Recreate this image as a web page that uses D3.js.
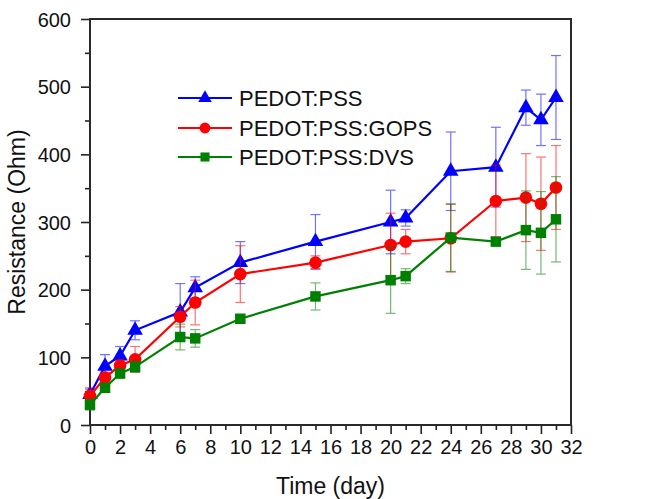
<!DOCTYPE html>
<html>
<head>
<meta charset="utf-8">
<script src="https://cdn.jsdelivr.net/npm/d3@7"></script>
<style>
  body { margin: 0; background: #fff; }
  text { font-family: "Liberation Sans", Arial, sans-serif; fill: #111; }
</style>
</head>
<body>
<svg id="chart" width="655" height="499"></svg>
<script>
const days = [0, 1, 2, 3, 6, 7, 10, 15, 20, 21, 24, 27, 29, 30, 31];

const pssValues = [45, 87, 102, 140, 167, 203, 240, 271, 300, 306, 375, 381, 469, 451, 484];
const pssErrors = [8, 17, 14, 14, 42, 16, 31, 40, 47, 12, 58, 59, 26, 38, 62];

const gopsValues = [43, 70, 88, 97, 160, 181, 223, 240, 266, 271, 276, 331, 336, 327, 351];
const gopsErrors = [12, 8, 8, 19, 15, 33, 42, 10, 47, 18, 50, 53, 65, 69, 62];

const dvsValues = [30, 55, 76, 86, 130, 128, 157, 190, 214, 220, 277, 271, 288, 284, 304];
const dvsErrors = [8, 6, 6, 8, 19, 13, 5, 20, 49, 11, 50, 6, 58, 61, 63];

const seriesNames = ["PEDOT:PSS", "PEDOT:PSS:GOPS", "PEDOT:PSS:DVS"];
const xTicks = d3.range(0, 33, 2);
const yTicks = d3.range(0, 601, 100);

const chartWidth = 655;
const chartHeight = 499;
const margin = {top: 19, right: 84, bottom: 74, left: 90};

const series = [
  {name: seriesNames[0], values: pssValues, errors: pssErrors, color: "#0000ff", symbol: d3.symbolTriangle, size: 105},
  {name: seriesNames[1], values: gopsValues, errors: gopsErrors, color: "#ff0000", symbol: d3.symbolCircle, size: 125},
  {name: seriesNames[2], values: dvsValues, errors: dvsErrors, color: "#008000", symbol: d3.symbolSquare, size: 110}
];

const svg = d3.select("#chart");

const x = d3.scaleLinear()
  .domain([0, 32])
  .range([margin.left, chartWidth - margin.right]);
const y = d3.scaleLinear()
  .domain([0, 600])
  .range([chartHeight - margin.bottom, margin.top]);

// axes: minor ticks first, then majors with labels
function draw_axes() {
  let bottom = chartHeight - margin.bottom;

  svg.append("g")
    .attr("transform", `translate(0, ${bottom})`)
    .call(d3.axisBottom(x).tickValues(d3.range(1, 32, 2)).tickSize(5).tickFormat(""))
    .call(g => g.select(".domain").remove());
  svg.append("g")
    .attr("transform", `translate(${margin.left}, 0)`)
    .call(d3.axisLeft(y).tickValues(d3.range(50, 600, 100)).tickSize(5).tickFormat(""))
    .call(g => g.select(".domain").remove());

  let xAxis = svg.append("g")
    .attr("transform", `translate(0, ${bottom})`)
    .call(d3.axisBottom(x).tickValues(xTicks).tickSize(9).tickPadding(6));
  xAxis.select(".domain").remove();
  xAxis.selectAll("text").style("font-size", "20px");

  let yAxis = svg.append("g")
    .attr("transform", `translate(${margin.left}, 0)`)
    .call(d3.axisLeft(y).tickValues(yTicks).tickSize(9).tickPadding(10));
  yAxis.select(".domain").remove();
  yAxis.selectAll("text").style("font-size", "20px").attr("dy", "0.35em");

  svg.selectAll(".tick line").attr("stroke", "#222").attr("stroke-width", 1.6);

  svg.append("rect")
    .attr("x", x(0))
    .attr("y", y(600))
    .attr("width", x(32) - x(0))
    .attr("height", y(0) - y(600))
    .attr("fill", "none")
    .attr("stroke", "#2a2a2a")
    .attr("stroke-width", 2);

  svg.append("text")
    .attr("x", (x(0) + x(32)) / 2)
    .attr("y", 494)
    .attr("text-anchor", "middle")
    .style("font-size", "23px")
    .text("Time (day)");

  svg.append("text")
    .attr("transform", `translate(25, ${(y(0) + y(600)) / 2}) rotate(-90)`)
    .attr("text-anchor", "middle")
    .style("font-size", "23px")
    .text("Resistance (Ohm)");
}

function draw_series(s) {
  let g = svg.append("g");
  let pts = days.map((d, i) => ({day: d, value: s.values[i], err: s.errors[i]}));

  let bars = g.append("g")
    .attr("stroke", s.color)
    .attr("stroke-width", 1.2)
    .attr("opacity", 0.55);
  pts.forEach(p => {
    let cx = x(p.day);
    let top = y(p.value + p.err);
    let bot = y(p.value - p.err);
    bars.append("line").attr("x1", cx).attr("x2", cx).attr("y1", top).attr("y2", bot);
    bars.append("line").attr("x1", cx - 5).attr("x2", cx + 5).attr("y1", top).attr("y2", top);
    bars.append("line").attr("x1", cx - 5).attr("x2", cx + 5).attr("y1", bot).attr("y2", bot);
  });

  let line = d3.line()
    .x(p => x(p.day))
    .y(p => y(p.value));
  g.append("path")
    .datum(pts)
    .attr("d", line)
    .attr("fill", "none")
    .attr("stroke", s.color)
    .attr("stroke-width", 2.2);

  g.selectAll("path.marker")
    .data(pts).enter()
    .append("path")
    .attr("class", "marker")
    .attr("d", d3.symbol(s.symbol, s.size))
    .attr("transform", p => `translate(${x(p.day)}, ${y(p.value)})`)
    .attr("fill", s.color);
}

function draw_legend() {
  let rowY = [98, 128, 157];
  series.forEach((s, i) => {
    let g = svg.append("g").attr("transform", `translate(0, ${rowY[i]})`);
    g.append("line")
      .attr("x1", 178).attr("x2", 232)
      .attr("stroke", s.color)
      .attr("stroke-width", 2);
    g.append("path")
      .attr("d", d3.symbol(s.symbol, s.size * 0.75))
      .attr("transform", "translate(205, 0)")
      .attr("fill", s.color);
    g.append("text")
      .attr("x", 239)
      .attr("dy", "0.35em")
      .style("font-size", "22px")
      .text(s.name);
  });
}

draw_axes();
series.forEach(draw_series);
draw_legend();
</script>
</body>
</html>
